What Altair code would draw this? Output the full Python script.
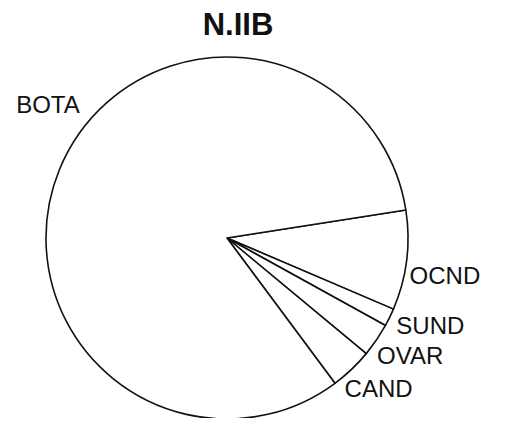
import math
import altair as alt
import pandas as pd

categories = ["OCND", "SUND", "OVAR", "CAND", "BOTA"]
shares = [8.9, 1.6, 3.0, 3.8, 82.7]
order = [1, 2, 3, 4, 5]

df = pd.DataFrame({"cat": categories, "share": shares, "ord": order})

start = math.radians(81.1)
theta_scale = alt.Scale(domain=[0, 100], range=[start, start + 2 * math.pi])

pie = alt.Chart(df).mark_arc(
    outerRadius=181, fill="white", stroke="#111", strokeWidth=1.6, strokeJoin="round"
).encode(
    theta=alt.Theta("share:Q", stack=True, scale=theta_scale),
    order=alt.Order("ord:Q"),
)

font = "Liberation Sans"
label_base = (
    alt.Chart(df)
    .transform_stack(stack="share", groupby=[], as_=["s0", "s1"], sort=[alt.SortField("ord")])
    .transform_calculate(mid="(datum.s0 + datum.s1) / 2")
    .encode(theta=alt.Theta("mid:Q", stack=None, scale=theta_scale), text="cat:N")
)

# label nudges (style offsets from the slice mid-angle point)
nudges = {
    "OCND": ("left", 0, 16),
    "SUND": ("left", 4, 8),
    "OVAR": ("left", -2, 15),
    "CAND": ("left", -9, 18),
    "BOTA": ("right", 23, -62),
}

label_layers = []
for name, (al, ddx, ddy) in nudges.items():
    label_layers.append(
        label_base.mark_text(
            radius=184, align=al, baseline="middle", dx=ddx, dy=ddy,
            font=font, fontSize=24, color="#111",
        ).transform_filter(alt.datum.cat == name)
    )

chart = (
    alt.layer(pie, *label_layers)
    .properties(
        width=438,
        height=340,
        title=alt.TitleParams("N.IIB", fontSize=31, font=font, fontWeight="bold", color="#111", anchor="middle", dx=11, offset=14),
        autosize=alt.AutoSizeParams(type="none"),
        padding={"left": 0, "top": 60, "right": 50, "bottom": 10},
    )
    .configure_view(stroke=None)
)

chart.save("out.html", embed_options={"renderer": "svg", "actions": False})
